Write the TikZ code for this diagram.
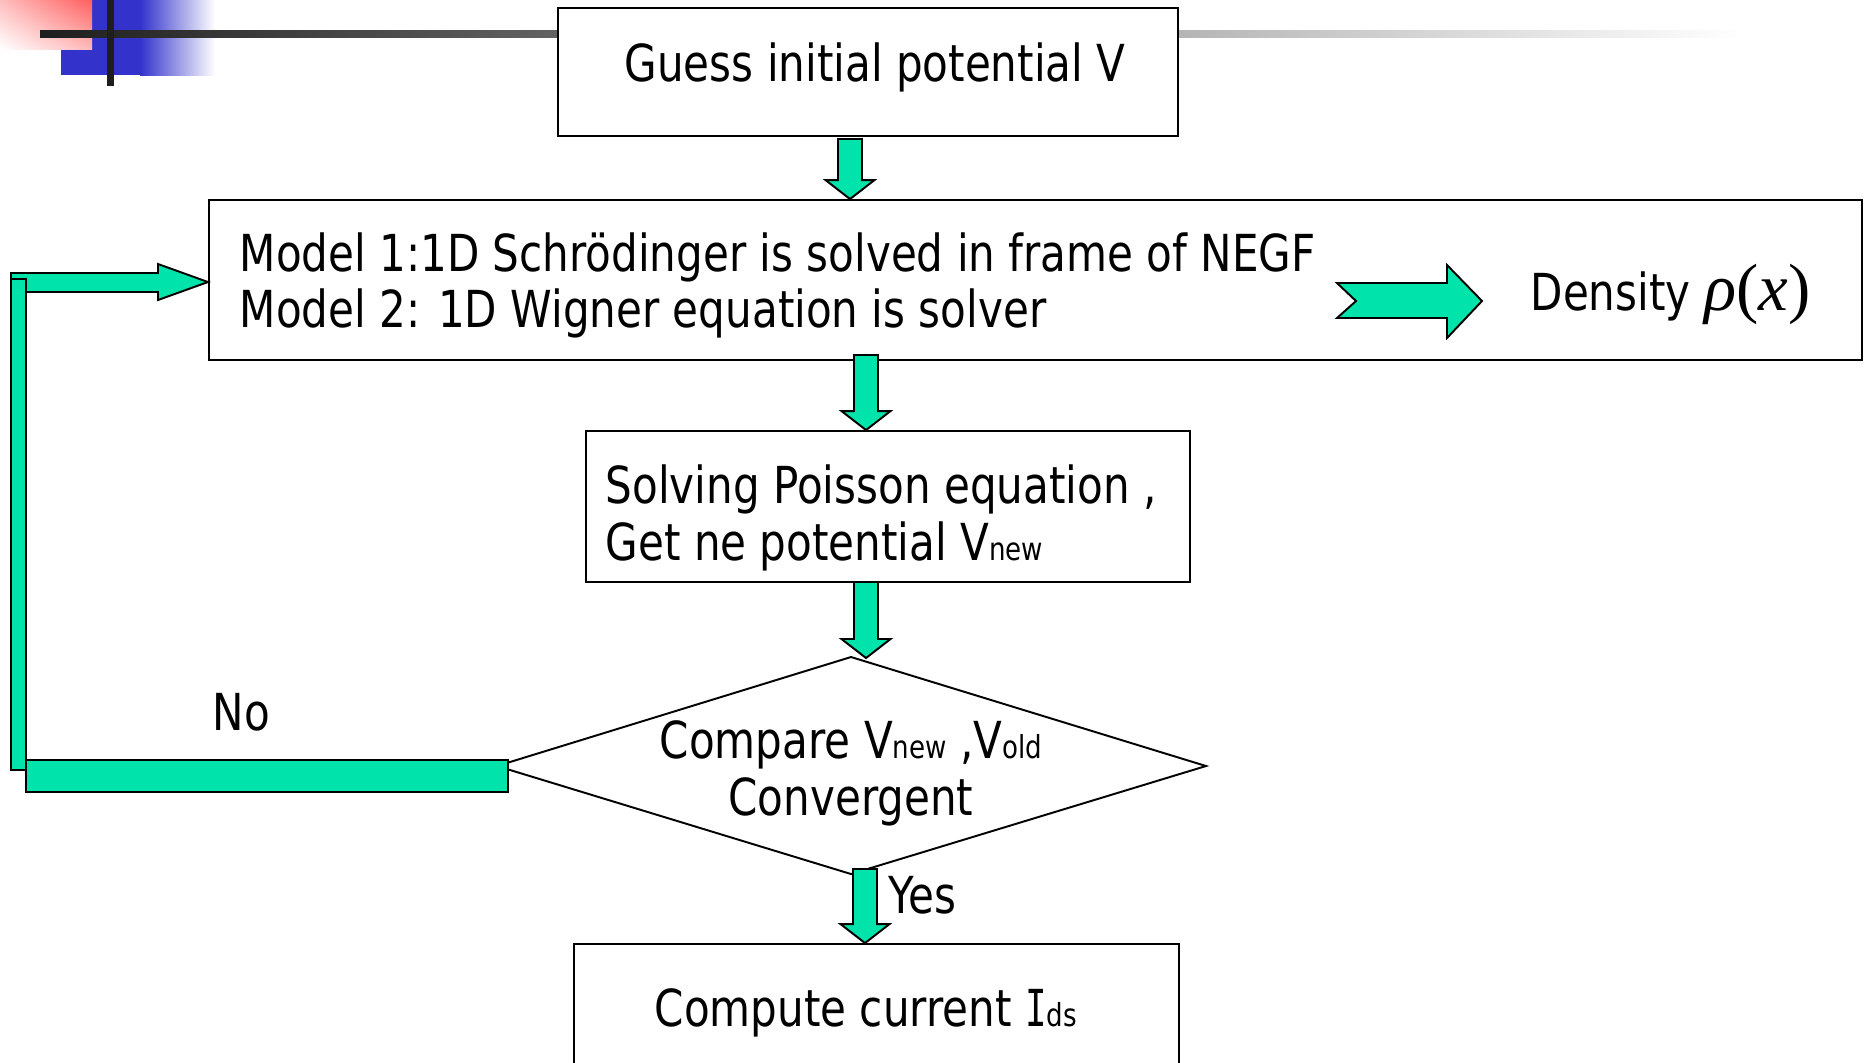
\RequirePackage{fix-cm}
\documentclass[tikz,border=0pt]{standalone}
\usepackage{fontspec}
\usetikzlibrary{calc,fit,shadings}
\newfontfamily\tah[FakeStretch=0.825]{DejaVu Sans}
\newfontfamily\tahI[FakeStretch=0.7]{DejaVu Sans Mono}
\newfontfamily\tms{Liberation Serif}
\definecolor{teal1}{RGB}{0,227,170}
\definecolor{dk}{RGB}{30,30,30}
\definecolor{blu}{RGB}{51,51,204}
\definecolor{pinkr}{RGB}{255,95,95}
\definecolor{pinkl}{RGB}{255,190,190}
\definecolor{pinkb}{RGB}{255,185,185}
\definecolor{midg}{RGB}{195,195,195}
\newcommand\sub[1]{{\fontsize{9}{9}\selectfont #1}}
\newcommand\fatdown[2]{%
  \path[fat] let \p1=(#1), \p2=(#2) in
   (\x2-0.12cm,\y1) -- (\x2+0.12cm,\y1) -- (\x2+0.12cm,\y2+0.19cm)
   -- (\x2+0.245cm,\y2+0.19cm) -- (\x2,\y2) -- (\x2-0.245cm,\y2+0.19cm)
   -- (\x2-0.12cm,\y2+0.19cm) -- cycle;}
\begin{document}
\begin{tikzpicture}[x=0.01cm,y=-0.01cm,
  box/.style={draw, line width=0.55pt, inner sep=0pt},
  txt/.style={font=\tah\fontsize{14.5}{16}\selectfont, inner sep=0pt, anchor=base west},
  fat/.style={draw, fill=teal1, line width=0.55pt, line join=miter}]
\useasboundingbox (0,0) rectangle (1870,1062);
\fill[white] (0,0) rectangle (1870,1062);
\clip (0,0) rectangle (1870,1062);
% decoration top-left
\fill[blu] (61,0) rectangle (141,75);
\shade[left color=blu, right color=white] (140,0) rectangle (215,75);
\shade[upper right=pinkr, upper left=pinkl, lower left=white, lower right=pinkb] (0,0) rectangle (92,49);
\shade[left color=dk, middle color=midg, right color=white] (40,30) rectangle (1740,37);
\fill[dk] (107,0) rectangle (114,86);
% boxes
\node[box, fill=white, fit={(558,8) (1178,136)}] (b1) {};
\node[box, fit={(209,200) (1862,360)}] (b2) {};
\node[box, fit={(586,431) (1190,582)}] (b3) {};
\node[box, fit={(574,944) (1179,1090)}] (b5) {};
% diamond
\coordinate (dl) at (497,766);
\coordinate (dt) at (851,657);
\coordinate (dr) at (1206,766);
\coordinate (db) at (851,874);
\draw[line width=0.55pt] (dl) -- (dt) -- (dr) -- (db) -- cycle;
% texts
\node[txt] (t1) at (624,81) {Guess initial potential V};
\node[txt] (t2a) at (239,271) {Model 1:1D Schrödinger is solved in frame of NEGF};
\node[txt] (t2b) at (239,327) {Model 2: 1D Wigner equation is solver};
\node[txt] (dens) at (1530,310) {Density {\tms\fontsize{19}{19}\selectfont\itshape ρ\upshape(\itshape x\upshape)}};
\node[txt] (t3a) at (605,503) {Solving Poisson equation ,};
\node[txt] (t3b) at (605,560) {Get ne potential V\sub{new}};
\node[txt, anchor=base] (t4a) at (851,758) {Compare V\sub{new} ,V\sub{old}};
\node[txt, anchor=base] (t4b) at (851,815) {Convergent};
\node[txt] (no) at (212,730) {No};
\node[txt] (yes) at (888,913) {Yes};
\node[txt] (t5) at (654,1026) {Compute current {\tahI I}\sub{ds}};
% vertical arrows
\coordinate (a1t) at (850,139);
\fatdown{a1t}{a1t |- b2.north}
\coordinate (a2t) at (866,355);
\fatdown{a2t}{a2t |- b3.north}
\coordinate (a3t) at (866,582);
\coordinate (a3e) at (866,658);
\fatdown{a3t}{a3e}
\coordinate (a4t) at (865,869);
\fatdown{a4t}{a4t |- b5.north}
% density arrow
\path[fat] (1337,283) -- (1447,283) -- (1447,265) -- (1482,301) -- (1447,338)
  -- (1447,318) -- (1337,318) -- (1356,301) -- cycle;
% feedback loop
\coordinate (lt) at (208,282);
\path[fat] (11,273) -- (158,273) -- (158,264) -- (lt) -- (158,300) -- (158,292) -- (11,292) -- cycle;
\path[fat] (11,279) rectangle (26,770);
\path[fat] (26,760) rectangle (508,792);
\end{tikzpicture}
\end{document}
